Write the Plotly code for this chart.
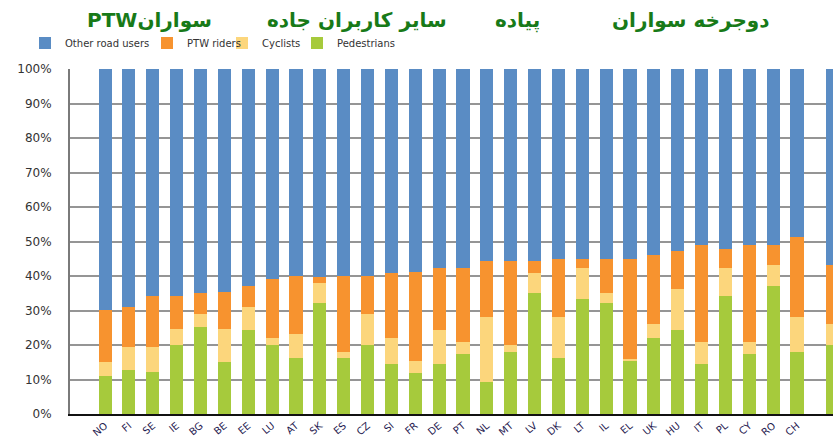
import plotly.graph_objects as go

countries = ["NO", "FI", "SE", "IE", "BG", "BE", "EE", "LU", "AT", "SK",
             "ES", "CZ", "SI", "FR", "DE", "PT", "NL", "MT", "LV", "DK",
             "LT", "IL", "EL", "UK", "HU", "IT", "PL", "CY", "RO", "CH", "EU"]

# shares of road deaths, %
pedestrians = [11.0, 12.9, 12.1, 20.0, 25.3, 15.2, 24.3, 20.0, 16.3, 32.2,
               16.3, 20.0, 14.4, 12.0, 14.4, 17.3, 9.2, 18.0, 35.2, 16.3,
               33.3, 32.2, 15.6, 21.9, 24.3, 14.4, 34.2, 17.3, 37.1, 18.0, 20.0]
cyclists = [4.2, 6.4, 7.2, 4.5, 3.8, 9.3, 6.8, 1.9, 7.0, 5.9,
            1.7, 9.1, 7.5, 3.3, 9.9, 3.6, 19.0, 2.0, 5.8, 11.9,
            9.0, 3.0, 0.3, 4.3, 11.9, 6.5, 8.1, 3.6, 6.2, 10.2, 6.2]
ptw_riders = [14.9, 11.8, 15.0, 9.8, 6.1, 10.8, 6.0, 17.3, 16.6, 1.6,
              21.9, 10.8, 19.0, 25.8, 18.0, 21.4, 16.1, 24.3, 3.3, 16.8,
              2.7, 9.8, 29.1, 19.8, 11.0, 28.2, 5.6, 28.2, 5.8, 23.1, 16.9]
other_users = [round(100 - a - b - c, 1) for a, b, c in zip(pedestrians, cyclists, ptw_riders)]

ytick_vals = list(range(0, 101, 10))
ytick_text = [f"{v}%" for v in ytick_vals]

# EU average sits a bit apart from the countries
xpos = list(range(len(countries) - 1)) + [len(countries) - 0.5]

W, H = 833, 441
ML, MT, MB = 70, 69, 27
PW, PH = W - ML, H - MT - MB

# name, values, colour, legend id, legend left edge (px)
series = [
    ("Pedestrians", pedestrians, "#A6CA3C", "legend5", 297),
    ("Cyclists", cyclists, "#FCD67C", "legend4", 222),
    ("PTW riders", ptw_riders, "#F7932F", "legend3", 147),
    ("Other road users", other_users, "#5A8CC4", "legend2", 25),
]

fig = go.Figure()
legends = {}
for name, vals, col, leg, lx in series:
    fig.add_trace(go.Bar(x=xpos, y=vals, name=name, legend=leg,
                         marker=dict(color=col, line=dict(width=0))))
    legends[leg] = dict(xref="container", yref="container",
                        x=lx / W, xanchor="left",
                        y=1 - 43 / H, yanchor="middle",
                        orientation="h", itemwidth=30,
                        font=dict(family="DejaVu Sans", size=10, color="#333333"),
                        itemclick=False, bgcolor="rgba(0,0,0,0)")

# Persian labels above the legend (RLE/PDF keep the right-to-left order)
notes = [("\u202bسوارانPTW\u202c", 149), ("سایر کاربران جاده", 357),
         ("پیاده", 517), ("دوجرخه سواران", 691)]
for txt, px in notes:
    fig.add_annotation(text=txt, xref="paper", yref="paper",
                       x=(px - ML) / PW, y=(MT + PH - 20) / PH,
                       xanchor="center", yanchor="middle", showarrow=False,
                       font=dict(family="DejaVu Sans", size=20, color="#187A18",
                                 weight="bold"))

fig.update_layout(
    width=W, height=H,
    margin=dict(l=ML, r=0, t=MT, b=MB, autoexpand=False),
    barmode="stack", bargap=0.45,
    paper_bgcolor="white", plot_bgcolor="white",
    showlegend=True,
    **legends,
    xaxis=dict(range=[-1.47, 30.51], tickvals=xpos, ticktext=countries,
               tickangle=-40, showgrid=False, zeroline=False,
               showline=True, linecolor="#111111", linewidth=2,
               layer="below traces", automargin=False, ticklabelstandoff=0,
               tickfont=dict(family="DejaVu Sans", size=10, color="#1f2050")),
    yaxis=dict(range=[0, 100], tickvals=ytick_vals, ticktext=ytick_text,
               showgrid=True, gridcolor="#959595",
               gridwidth=1.5, zeroline=False, showline=True,
               linecolor="#7a7a7a", linewidth=2, ticks="",
               ticklabelstandoff=14, automargin=False,
               tickfont=dict(family="DejaVu Sans", size=12, color="#333333")),
)

# drop the default 8px body margin so the figure fills the window exactly
fig.write_html("out.html", config={"displayModeBar": False},
               post_script="document.body.style.margin = '0';")
